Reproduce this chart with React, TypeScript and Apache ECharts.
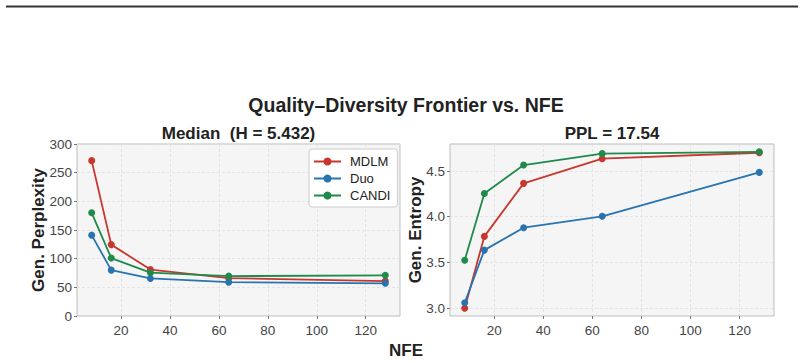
import React, { useEffect, useRef } from "react";
import * as echarts from "echarts";

// NFE sweep (x values shared by both panels)
const NFE = [8, 16, 32, 64, 128];

// Generative perplexity at median entropy
const mdlmPpl = [271, 124.5, 81, 66, 61];
const duoPpl = [141, 80, 65.5, 59, 57];
const candiPpl = [180, 101, 75.5, 69.5, 71];

// Generative entropy at fixed PPL
const mdlmEnt = [3.0, 3.785, 4.365, 4.635, 4.7];
const duoEnt = [3.06, 3.635, 3.88, 4.005, 4.485];
const candiEnt = [3.525, 4.255, 4.565, 4.69, 4.71];

// Tick values
const xTicks = [20, 40, 60, 80, 100, 120];
const entTicks = [3.0, 3.5, 4.0, 4.5];

const FONT = "Liberation Sans, Arial, sans-serif";
const COLORS = { MDLM: "#c8372d", Duo: "#2874b0", CANDI: "#1f8a4c" };

const pairs = (ys: number[]) => NFE.map((x, i) => [x, ys[i]]);

export default function App() {
  const ref = useRef<HTMLDivElement>(null);

  useEffect(() => {
    if (!ref.current) return;
    const chart = echarts.init(ref.current, null, { renderer: "svg" });

    const tickLabel = { color: "#444", fontSize: 13.5, fontFamily: FONT };
    const splitLine = {
      show: true,
      lineStyle: { color: "#e0e0e0", type: [3, 2] as any, width: 0.8 },
    };
    const axisTick = { show: true, length: 3, lineStyle: { color: "#777" } };

    const mkX = (gridIndex: number) => ({
      type: "value",
      gridIndex,
      min: 2,
      max: 134,
      axisLine: { show: false },
      axisTick: { ...axisTick, customValues: xTicks },
      axisLabel: { ...tickLabel, margin: 7, customValues: xTicks },
      splitLine,
    });

    const lineSeries = (
      name: keyof typeof COLORS,
      ys: number[],
      idx: number
    ) => ({
      type: "line",
      name,
      xAxisIndex: idx,
      yAxisIndex: idx,
      data: pairs(ys),
      symbol: "circle",
      symbolSize: 7,
      lineStyle: { width: 1.8, color: COLORS[name] },
      itemStyle: { color: COLORS[name] },
    });

    const gridBox = {
      top: 144,
      height: 172,
      show: true,
      backgroundColor: "#f5f5f5",
      borderColor: "#bdbdbd",
      borderWidth: 1,
    };

    chart.setOption({
      animation: false,
      backgroundColor: "#ffffff",
      textStyle: { fontFamily: FONT },
      grid: [
        { ...gridBox, left: 77, width: 323 },
        { ...gridBox, left: 450, width: 324 },
      ],
      xAxis: [mkX(0), mkX(1)],
      yAxis: [
        {
          type: "value",
          gridIndex: 0,
          min: 0,
          max: 300,
          interval: 50,
          axisLine: { show: false },
          axisTick,
          axisLabel: { ...tickLabel, margin: 5 },
          splitLine,
        },
        {
          type: "value",
          gridIndex: 1,
          min: 2.9145,
          max: 4.7955,
          axisLine: { show: false },
          axisTick: { ...axisTick, customValues: entTicks },
          axisLabel: {
            ...tickLabel,
            margin: 5,
            customValues: entTicks,
            formatter: (v: number) => v.toFixed(1),
          },
          splitLine,
        },
      ],
      legend: {
        data: ["MDLM", "Duo", "CANDI"],
        orient: "vertical",
        left: 309,
        top: 149,
        padding: [6, 7, 5, 4],
        itemWidth: 27,
        itemHeight: 10,
        itemGap: 4,
        backgroundColor: "#ffffff",
        borderColor: "#cccccc",
        borderWidth: 1,
        borderRadius: 3,
        textStyle: {
          fontSize: 13,
          color: "#222",
          fontFamily: FONT,
          padding: [0, 0, 0, 4],
        },
      },
      series: [
        lineSeries("MDLM", mdlmPpl, 0),
        lineSeries("Duo", duoPpl, 0),
        lineSeries("CANDI", candiPpl, 0),
        lineSeries("MDLM", mdlmEnt, 1),
        lineSeries("Duo", duoEnt, 1),
        lineSeries("CANDI", candiEnt, 1),
      ],
      graphic: [
        { type: "rect", shape: { x: 6, y: 5, width: 792, height: 1 }, style: { fill: "#9a9a9a" }, silent: true },
        { type: "rect", shape: { x: 6, y: 6, width: 792, height: 1.6 }, style: { fill: "#333333" }, silent: true },
        {
          type: "text",
          x: 406,
          y: 105,
          style: {
            text: "Quality–Diversity Frontier vs. NFE",
            font: `bold 19.5px ${FONT}`,
            fill: "#222",
            align: "center",
            verticalAlign: "middle",
          },
        },
        {
          type: "text",
          x: 238.5,
          y: 133,
          style: {
            text: "Median  (H = 5.432)",
            font: `bold 17px ${FONT}`,
            fill: "#222",
            align: "center",
            verticalAlign: "middle",
          },
        },
        {
          type: "text",
          x: 612,
          y: 133,
          style: {
            text: "PPL = 17.54",
            font: `bold 17px ${FONT}`,
            fill: "#222",
            align: "center",
            verticalAlign: "middle",
          },
        },
        {
          type: "text",
          x: 38,
          y: 230,
          rotation: Math.PI / 2,
          style: {
            text: "Gen. Perplexity",
            font: `bold 17px ${FONT}`,
            fill: "#222",
            align: "center",
            verticalAlign: "middle",
          },
        },
        {
          type: "text",
          x: 415,
          y: 230,
          rotation: Math.PI / 2,
          style: {
            text: "Gen. Entropy",
            font: `bold 17px ${FONT}`,
            fill: "#222",
            align: "center",
            verticalAlign: "middle",
          },
        },
        {
          type: "text",
          x: 406,
          y: 350,
          style: {
            text: "NFE",
            font: `bold 17px ${FONT}`,
            fill: "#222",
            align: "center",
            verticalAlign: "middle",
          },
        },
      ],
    });

    return () => chart.dispose();
  }, []);

  return (
    <div
      ref={ref}
      style={{ position: "fixed", left: 0, top: 0, width: 804, height: 363 }}
    />
  );
}
